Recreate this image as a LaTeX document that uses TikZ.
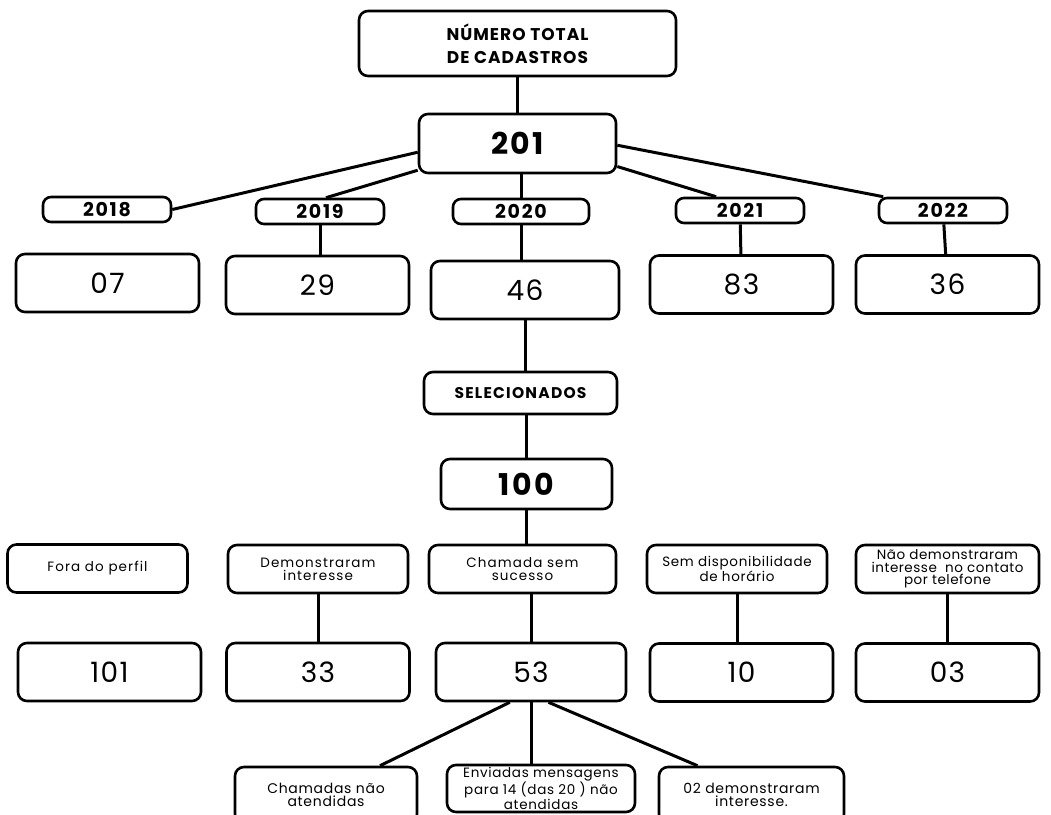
\documentclass[tikz,border=0pt]{standalone}
\usepackage{fontspec}
\setmainfont{Poppins}

\begin{document}
\begin{tikzpicture}[x=1pt, y=-1pt,
  box/.style={draw, line width=2.6pt, rounded corners=9pt, align=center, inner sep=0pt},
  link/.style={line width=3pt},
  yearbox/.style={box, rounded corners=8pt, minimum width=128pt, minimum height=25pt,
    font=\fontsize{19}{20}\selectfont\bfseries\addfontfeature{LetterSpace=9}},
  valbox/.style={box, minimum width=183pt, minimum height=58pt,
    font=\fontsize{28}{30}\selectfont\addfontfeature{LetterSpace=5}},
  catbox/.style={box, minimum width=180pt, minimum height=48pt,
    font=\fontsize{13.5}{12.8}\selectfont\addfontfeature{LetterSpace=8}},
  subbox/.style={box, minimum width=182pt, minimum height=56pt,
    font=\fontsize{14}{13.5}\selectfont\addfontfeature{LetterSpace=5}}]
\useasboundingbox (0,0) rectangle (1051,814);

% top
\node[box, minimum width=317pt, minimum height=65pt,
  font=\fontsize{17}{23}\selectfont\bfseries\addfontfeature{LetterSpace=6}]
  (total) at (517.5,43.5) {NÚMERO TOTAL\\DE CADASTROS};
\node[box, minimum width=197pt, minimum height=59pt,
  font=\fontsize{30}{32}\selectfont\bfseries\addfontfeature{LetterSpace=6}]
  (n201) at (517.5,143.5) {201};

% years
\node[yearbox] (y2018) at (107,209.5) {2018};
\node[yearbox] (y2019) at (320,211.5) {2019};
\node[yearbox, minimum width=136pt] (y2020) at (521,211.5) {2020};
\node[yearbox] (y2021) at (740,210.5) {2021};
\node[yearbox] (y2022) at (943,210.5) {2022};

\node[valbox] (v07) at (107.5,283) {07};
\node[valbox] (v29) at (317.5,285) {29};
\node[valbox, minimum width=188pt] (v46) at (525,290) {46};
\node[valbox] (v83) at (741.5,284.5) {83};
\node[valbox] (v36) at (947.5,284.5) {36};

\draw[link] (total) -- (n201);
\draw[link] (n201.185) -- (y2018.east);
\draw[link] (n201.195) -- ([xshift=6pt]y2019.north);
\draw[link] (y2020.north |- n201.south) -- (y2020.north);
\draw[link] (n201.-13) -- (y2021.150);
\draw[link] (n201.-1) -- (y2022.167);
\draw[link] (y2019) -- (y2019 |- v29.north);
\draw[link] (y2020) -- (y2020 |- v46.north);
\draw[link] (y2021) -- (v83);
\draw[link] (y2022) -- (v36);

% selected
\node[box, minimum width=193pt, minimum height=42pt,
  font=\fontsize{15.5}{16}\selectfont\bfseries\addfontfeature{LetterSpace=8}]
  (sel) at (520.5,393) {SELECIONADOS};
\node[box, minimum width=171pt, minimum height=50pt,
  font=\fontsize{30}{32}\selectfont\bfseries\addfontfeature{LetterSpace=8}]
  (n100) at (526.5,484) {100};
\draw[link] (v46) -- (v46.south |- sel.north);
\draw[link] (n100 |- sel.south) -- (n100);

% outcomes
\node[catbox] (c1) at (97.5,568.5) {Fora do perfil};
\node[catbox] (c2) at (318,569) {Demonstraram\\interesse};
\node[catbox, minimum width=187pt] (c3) at (522.5,569) {Chamada sem\\sucesso};
\node[catbox, font=\fontsize{13.5}{12.8}\selectfont\addfontfeature{LetterSpace=5}]
  (c4) at (737,569) {Sem disponibilidade\\de horário};
\node[catbox, minimum width=183pt, font=\fontsize{13.5}{12.5}\selectfont\addfontfeature{LetterSpace=4}]
  (c5) at (947.5,569) {Não demonstraram\\interesse~ no contato\\por telefone};

\node[valbox] (r101) at (109.5,672) {101};
\node[valbox] (r33) at (318,672) {33};
\node[valbox, minimum width=190pt] (r53) at (531,672) {53};
\node[valbox] (r10) at (741.5,672.5) {10};
\node[valbox] (r03) at (947.5,672.5) {03};

\draw[link] (n100.south) -- (n100.south |- c3.north);
\draw[link] (r53 |- c3.south) -- (r53);
\draw[link] (c2) -- (r33);
\draw[link] (c4.south) -- (c4.south |- r10.north);
\draw[link] (c5) -- (r03);

% calls without success
\node[subbox] (b1) at (326,795) {Chamadas não\\atendidas};
\node[subbox, minimum width=188pt, minimum height=47pt,
  font=\fontsize{13.5}{12}\selectfont\addfontfeature{LetterSpace=5}]
  (b2) at (541,788.5) {Enviadas mensagens\\para 14 (das 20 ) não\\atendidas};
\node[subbox, minimum width=185pt] (b3) at (751.5,795) {02 demonstraram\\interesse.};

\draw[link] (r53.235) -- ([xshift=54pt]b1.north);
\draw[link] (r53.south) -- (r53.south |- b2.north);
\draw[link] (r53.300) -- ([xshift=-54pt]b3.north);
\end{tikzpicture}
\end{document}
